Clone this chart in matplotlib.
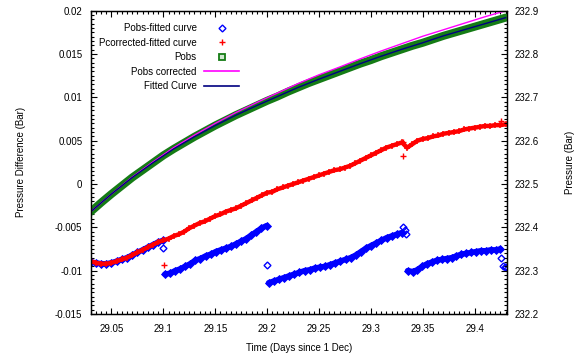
import matplotlib
matplotlib.use("Agg")
import matplotlib.pyplot as plt
import numpy as np
from matplotlib.lines import Line2D
from matplotlib.ticker import MultipleLocator, FormatStrFormatter

plt.rcParams["font.family"] = ["Liberation Sans", "DejaVu Sans"]
plt.rcParams["font.size"] = 7

# Pcorrected - fitted curve (Bar), sampled every 0.005 day from 29.030
red_start, red_step = 29.030, 0.005
red_vals = [
    -0.0089, -0.0091, -0.0092, -0.0092, -0.0091, -0.0089, -0.0087, -0.0085,
    -0.0082, -0.0079, -0.0076, -0.0073, -0.0070, -0.0067, -0.0065, -0.0063,
    -0.0060, -0.0058, -0.0055, -0.0051, -0.0048, -0.0045, -0.0043, -0.0040,
    -0.0037, -0.0035, -0.0032, -0.0030, -0.0028, -0.0025, -0.0022, -0.0019,
    -0.0016, -0.0013, -0.0010, -0.0009, -0.0006, -0.0004, -0.0002, 0.0000,
    0.0002, 0.0004, 0.0006, 0.0008, 0.0010, 0.0012, 0.0014, 0.0016,
    0.0017, 0.0019, 0.0021, 0.0024, 0.0027, 0.0030, 0.0033, 0.0036,
    0.0039, 0.0042, 0.0044, 0.0046, 0.0048, 0.0042, 0.0046, 0.0050,
    0.0052, 0.0053, 0.0055, 0.0056, 0.0058, 0.0059, 0.0060, 0.0061,
    0.0063, 0.0064, 0.0065, 0.0066, 0.0067, 0.0067, 0.0068, 0.0068,
    0.0069,
]
red_out_t = [29.1005, 29.3315, 29.3310, 29.4255]
red_out_v = [-0.0093, 0.0032, 0.0049, 0.0073]

# Pobs - fitted curve (Bar), one block per gauge segment: (first day, last day, values)
blue_segments = [
    (29.030, 29.100, [-0.0090, -0.0091, -0.0092, -0.0092, -0.0091, -0.0089,
                      -0.0087, -0.0085, -0.0082, -0.0079, -0.0076, -0.0073,
                      -0.0070, -0.0067, -0.0065]),
    (29.1015, 29.1995, [-0.0104, -0.0103, -0.0100, -0.0098, -0.0095, -0.0092,
                        -0.0088, -0.0086, -0.0083, -0.0081, -0.0078, -0.0076,
                        -0.0074, -0.0072, -0.0069, -0.0066, -0.0063, -0.0059,
                        -0.0055, -0.0051, -0.0048]),
    (29.2015, 29.3300, [-0.0114, -0.0112, -0.0110, -0.0108, -0.0106, -0.0104,
                        -0.0102, -0.0100, -0.0099, -0.0097, -0.0096, -0.0095,
                        -0.0093, -0.0091, -0.0089, -0.0087, -0.0085, -0.0082,
                        -0.0078, -0.0074, -0.0071, -0.0068, -0.0065, -0.0062,
                        -0.0060, -0.0058, -0.0056]),
    (29.3355, 29.4250, [-0.0100, -0.0101, -0.0099, -0.0095, -0.0092, -0.0090,
                        -0.0088, -0.0087, -0.0086, -0.0085, -0.0083, -0.0081,
                        -0.0080, -0.0079, -0.0078, -0.0077, -0.0077, -0.0076,
                        -0.0076, -0.0075]),
]
blue_out_t = [29.1000, 29.2000, 29.3310, 29.3325, 29.3335, 29.4255, 29.4275, 29.4290, 29.4305]
blue_out_v = [-0.0074, -0.0093, -0.0050, -0.0053, -0.0058, -0.0085, -0.0095, -0.0096, -0.0096]

# Pobs (Bar), every 0.01 day from 29.03
pobs_start, pobs_step = 29.03, 0.01
pobs_vals = [
    232.436, 232.457, 232.477, 232.496, 232.515, 232.532, 232.549, 232.566,
    232.581, 232.595, 232.609, 232.622, 232.635, 232.647, 232.659, 232.670,
    232.681, 232.692, 232.702, 232.713, 232.723, 232.733, 232.742, 232.751,
    232.760, 232.769, 232.778, 232.786, 232.795, 232.803, 232.811, 232.819,
    232.826, 232.834, 232.842, 232.849, 232.856, 232.863, 232.870, 232.877,
    232.884,
]

# Pobs corrected and fitted curve (Bar), every 0.02 day from 29.03
curve_start, curve_step = 29.03, 0.02
pcorr_vals = [
    232.436, 232.477, 232.516, 232.551, 232.584, 232.613, 232.640, 232.665,
    232.688, 232.710, 232.732, 232.752, 232.770, 232.789, 232.807, 232.824,
    232.841, 232.856, 232.871, 232.886, 232.900,
]
fit_vals = [
    232.436, 232.477, 232.515, 232.549, 232.581, 232.609, 232.635, 232.659,
    232.681, 232.702, 232.723, 232.742, 232.760, 232.778, 232.795, 232.811,
    232.826, 232.842, 232.856, 232.870, 232.884,
]

BLUE = "#0000ff"
RED = "#ff0000"
GREEN = "#157c15"
MAGENTA = "#ff00ff"
NAVY = "#000080"


def days(start, step, values):
    return start + step * np.arange(len(values))


fig, ax = plt.subplots(figsize=(5.8, 3.57), dpi=100)
fig.subplots_adjust(left=0.1564, right=0.8736, top=0.97, bottom=0.1204)
ax2 = ax.twinx()

# left axis: residuals, dense samples drawn as a band of markers
for first, last, vals in blue_segments:
    t = np.linspace(first, last, len(vals))
    ax.plot(t, vals, color=BLUE, lw=4.0, solid_capstyle="round")
    ax.plot(t, vals, ls="none", marker="D", ms=4, mfc=BLUE, mec=BLUE, mew=0.6)
ax.plot(blue_out_t, blue_out_v, ls="none", marker="D", ms=3.5,
        mfc="none", mec=BLUE, mew=1.0)

t_red = days(red_start, red_step, red_vals)
ax.plot(t_red, red_vals, color=RED, lw=3.2, solid_capstyle="round")
ax.plot(t_red, red_vals, ls="none", marker="+", ms=5, mec=RED, mew=1.1)
ax.plot(red_out_t, red_out_v, ls="none", marker="+", ms=5, mec=RED, mew=1.0)

# right axis: pressures
t_pobs = days(pobs_start, pobs_step, pobs_vals)
ax2.plot(t_pobs, pobs_vals, color=GREEN, lw=5.8, solid_capstyle="round")
t_curve = days(curve_start, curve_step, pcorr_vals)
ax2.plot(t_curve, pcorr_vals, color=MAGENTA, lw=1.0)
ax2.plot(t_curve, fit_vals, color=NAVY, lw=1.0)

ax.set_xlim(29.03, 29.431)
ax.set_ylim(-0.015, 0.02)
ax2.set_ylim(232.2, 232.9)

ax.xaxis.set_major_locator(MultipleLocator(0.05))
ax.xaxis.set_minor_locator(MultipleLocator(0.005))
ax.yaxis.set_major_locator(MultipleLocator(0.005))
ax.yaxis.set_minor_locator(MultipleLocator(0.0005))
ax2.yaxis.set_major_locator(MultipleLocator(0.1))
ax2.yaxis.set_minor_locator(MultipleLocator(0.01))
ax.xaxis.set_major_formatter(FormatStrFormatter("%g"))
ax.yaxis.set_major_formatter(FormatStrFormatter("%g"))
ax2.yaxis.set_major_formatter(FormatStrFormatter("%g"))

ax.tick_params(axis="x", which="both", direction="in", top=True, pad=7)
ax.tick_params(axis="y", which="both", direction="in", right=False, pad=6)
ax2.tick_params(axis="y", which="both", direction="in", pad=6)
for a in (ax, ax2):
    a.tick_params(which="major", length=4.5, width=0.8)
    a.tick_params(which="minor", length=2.2, width=0.8)
    for s in a.spines.values():
        s.set_linewidth(0.9)

ax.set_xlabel("Time (Days since 1 Dec)")
ax.set_ylabel("Pressure Difference (Bar)")
ax2.set_ylabel("Pressure (Bar)")
ax.xaxis.set_label_coords(0.5, -0.095)
ax.yaxis.set_label_coords(-0.155, 0.5)
ax2.yaxis.set_label_coords(1.141, 0.5)

handles = [
    Line2D([], [], ls="none", marker="D", ms=3.5, mfc="none", mec=BLUE, mew=1.0),
    Line2D([], [], ls="none", marker="+", ms=5, mec=RED, mew=1.0),
    Line2D([], [], ls="none", marker="s", ms=4.5, mfc="#cfe6cf", mec=GREEN, mew=1.3),
    Line2D([], [], color=MAGENTA, lw=1.2),
    Line2D([], [], color=NAVY, lw=1.2),
]
labels = ["Pobs-fitted curve", "Pcorrected-fitted curve", "Pobs",
          "Pobs corrected", "Fitted Curve"]
ax2.legend(handles, labels, loc="upper right",
           bbox_to_anchor=(0.3565, 0.958), bbox_transform=ax2.transAxes,
           markerfirst=False, frameon=False, handlelength=3.6,
           handletextpad=0.75, labelspacing=0.45, borderpad=0, borderaxespad=0)

fig.savefig("out.png", dpi=100)
